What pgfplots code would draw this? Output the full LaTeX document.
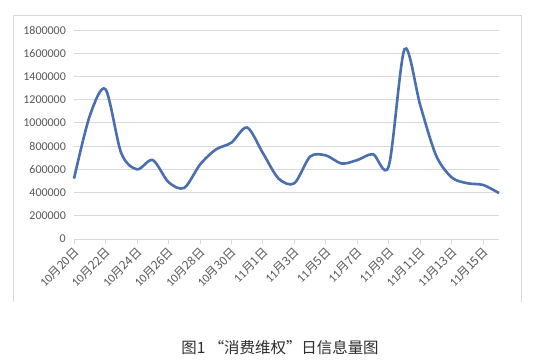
\documentclass[border=0pt]{standalone}
\usepackage{fontspec}
\setmainfont{Carlito}
\newfontfamily\cjk{Noto Sans CJK SC}
\usepackage{pgfplots}
\pgfplotsset{compat=1.18}
\definecolor{lineblue}{HTML}{4A6EAE}
\definecolor{gridgray}{HTML}{D9D9D9}
\definecolor{ticktext}{HTML}{595959}
\newcommand{\md}[2]{#1\cjk{月}#2\cjk{日}}
\begin{document}
\begin{tikzpicture}[x=1bp,y=1bp]
\path[use as bounding box] (0,0) rectangle (533,361);
\fill[white] (0,0) rectangle (533,361);
\draw[gridgray, line width=0.8bp] (13,59) -- (13,346) -- (521,346) -- (521,59);
\begin{axis}[
  at={(74bp,122bp)}, anchor=south west,
  scale only axis, width=425bp, height=209bp,
  xmin=0, xmax=27, ymin=0, ymax=1800000,
  axis lines*=left,
  x axis line style={draw=gridgray, line width=0.8bp},
  y axis line style={draw=none},
  ymajorgrids, grid style={draw=gridgray, line width=0.8bp},
  xtick={0,2,...,26},
  xticklabels={\md{10}{20},\md{10}{22},\md{10}{24},\md{10}{26},\md{10}{28},\md{10}{30},\md{11}{1},\md{11}{3},\md{11}{5},\md{11}{7},\md{11}{9},\md{11}{11},\md{11}{13},\md{11}{15}},
  ytick={0,200000,400000,600000,800000,1000000,1200000,1400000,1600000,1800000},
  yticklabels={0,200000,400000,600000,800000,1000000,1200000,1400000,1600000,1800000},
  scaled y ticks=false,
  tick align=outside,
  xtick style={draw=gridgray, line width=0.8bp},
  major tick length=5bp,
  ytick style={draw=none},
  tick label style={font=\fontsize{12}{14}\selectfont, text=ticktext},
  xticklabel style={xshift=3bp, yshift=-6bp, rotate=45, anchor=east, inner sep=0pt},
  yticklabel style={anchor=east, inner sep=0pt, xshift=-3bp},
  clip=false,
]
\addplot[lineblue, line width=2.6bp, smooth, tension=0.5, mark=none] coordinates {
(0,520000) (1,1060000) (2,1290000) (3,740000) (4,600000) (5,680000)
(6,490000) (7,440000) (8,640000) (9,770000) (10,830000) (11,960000)
(12,740000) (13,520000) (14,480000) (15,710000) (16,720000) (17,650000)
(18,680000) (19,730000) (20,630000) (21,1635000) (22,1150000) (23,720000)
(24,530000) (25,480000) (26,465000) (27,395000)
};
\end{axis}
\node[font=\cjk\fontsize{15.5}{18}\selectfont, text=black!82] at (280,13) {图1 “消费维权”日信息量图};
\end{tikzpicture}
\end{document}
